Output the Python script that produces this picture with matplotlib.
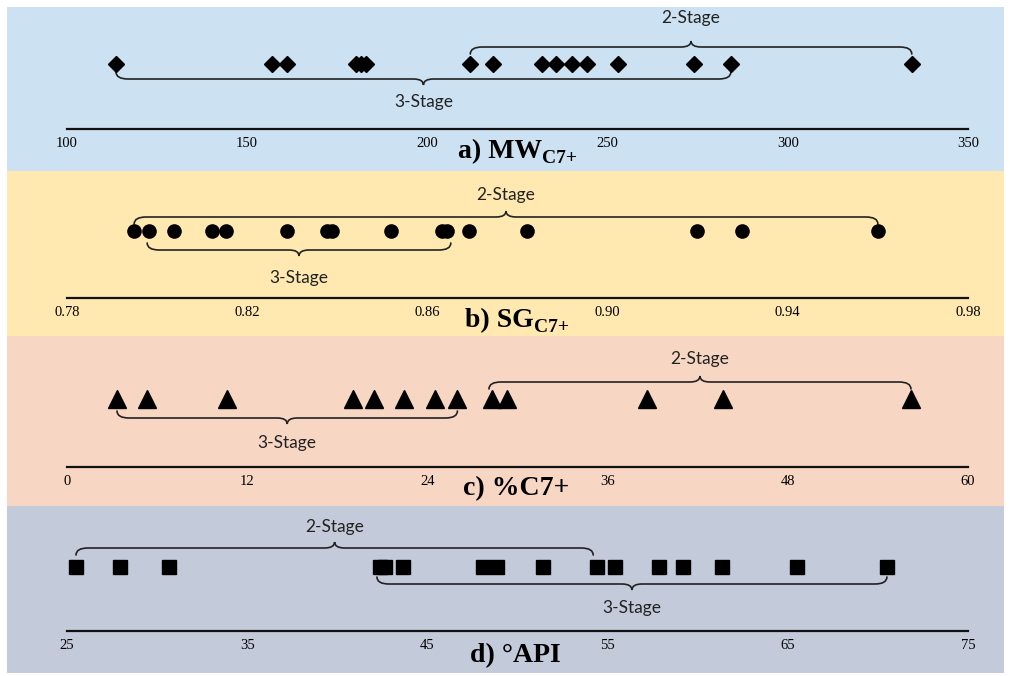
import matplotlib
matplotlib.use('Agg')
import matplotlib.pyplot as plt
from matplotlib.path import Path
from matplotlib.patches import PathPatch
from matplotlib.text import Annotation

# values
mw_values = [113.6, 156.9, 161.1, 180.3, 181.7, 183.1, 211.9, 218.1, 231.9,
             235.6, 240.0, 244.4, 252.8, 273.9, 284.2, 334.4]
mw_ticks = [100, 150, 200, 250, 300, 350]
mw_3stage = (113.6, 284.2)
mw_2stage = (211.9, 334.4)

sg_values = [0.7949, 0.7982, 0.8038, 0.8122, 0.8153, 0.8289, 0.8378, 0.8389,
             0.8520, 0.8633, 0.8644, 0.8693, 0.8820, 0.9198, 0.9298, 0.9600]
sg_ticks = [0.78, 0.82, 0.86, 0.90, 0.94, 0.98]
sg_3stage = (0.7978, 0.8652)
sg_2stage = (0.7949, 0.9600)

c7_values = [3.33, 5.33, 10.67, 19.07, 20.47, 22.47, 24.53, 26.0, 28.3,
             29.3, 38.6, 43.67, 56.2]
c7_ticks = [0, 12, 24, 36, 48, 60]
c7_3stage = (3.33, 26.0)
c7_2stage = (28.1, 56.2)

api_values = [25.5, 27.94, 30.67, 42.39, 42.67, 43.67, 48.06, 48.89, 51.39,
              54.39, 55.39, 57.83, 59.17, 61.33, 65.5, 70.5]
api_ticks = [25, 35, 45, 55, 65, 75]
api_3stage = (42.2, 70.5)
api_2stage = (25.5, 54.2)

W, H = 1010, 676
fig = plt.figure(figsize=(W / 100, H / 100), dpi=100)

label_font = dict(family='Lato', fontsize=12.5, color='#222222')
serif = 'Liberation Serif'


def brace(ax, x0, x1, y, d, upp, color='#222222'):
    # curly brace, d=+1 cusp points down, d=-1 cusp points up
    rx, rc = 12 * upp, 10 * upp
    hend, hc = 7, 6
    xm = (x0 + x1) / 2
    verts = [(x0, y - d * hend), (x0, y), (x0 + rx, y),
             (xm - rc, y), (xm, y), (xm, y + d * hc),
             (xm, y), (xm + rc, y),
             (x1 - rx, y), (x1, y), (x1, y - d * hend)]
    codes = [Path.MOVETO, Path.CURVE3, Path.CURVE3,
             Path.LINETO, Path.CURVE3, Path.CURVE3,
             Path.CURVE3, Path.CURVE3,
             Path.LINETO, Path.CURVE3, Path.CURVE3]
    ax.add_patch(PathPatch(Path(verts, codes), fc='none', ec=color, lw=1.2,
                           capstyle='round'))
    return xm


def panel(top, bot, bg, values, ticks, ticklabels, marker, ms,
          ymark, yaxis, st3, y3, st2, y2):
    left_px, right_px = 7, 1004
    ax = fig.add_axes([left_px / W, 1 - bot / H, (right_px - left_px) / W, (bot - top) / H])
    ax.set_facecolor(bg)
    lo, hi = ticks[0], ticks[-1]
    upp = (hi - lo) / 901.0
    ax.set_xlim(lo - (67 - left_px) * upp, hi + (right_px - 968) * upp)
    ax.set_ylim(bot - top, 0)
    for s in ['top', 'left', 'right']:
        ax.spines[s].set_visible(False)
    ax.spines['bottom'].set_position(('data', yaxis - top))
    ax.spines['bottom'].set_bounds(lo, hi)
    ax.spines['bottom'].set_linewidth(1.6)
    ax.spines['bottom'].set_color('#111111')
    ax.set_yticks([])
    ax.set_xticks(ticks)
    ax.set_xticklabels(ticklabels, fontfamily=serif, fontsize=10.5)
    ax.tick_params(axis='x', length=0, pad=6)

    ax.plot(values, [ymark - top] * len(values), ls='none', marker=marker,
            ms=ms, color='black', mec='black', zorder=3)

    for name, rng, info in [('3-Stage', st3, y3), ('2-Stage', st2, y2)]:
        yline, d, ylab = info
        xm = brace(ax, rng[0], rng[1], yline - top, d, upp)
        ax.text(xm, ylab - top, name, ha='center', va='center', **label_font)
    return ax


def title(text, sub, tx, ty):
    t = fig.text(tx / W, 1 - ty / H, text, fontfamily=serif, fontweight='bold',
                 fontsize=20, ha='left', va='baseline', zorder=5)
    if sub:
        a = Annotation(sub, xy=(1, 0), xycoords=t, xytext=(0, 1),
                       textcoords='offset points', fontfamily=serif,
                       fontweight='bold', fontsize=14, ha='left', va='baseline',
                       annotation_clip=False, zorder=5)
        fig.add_artist(a)


panel(7, 171, '#CCE1F2', mw_values, mw_ticks, [str(v) for v in mw_ticks], 'D', 8,
      64, 129, mw_3stage, (79, 1, 102), mw_2stage, (47, -1, 18))
panel(171, 336, '#FFE9B1', sg_values, sg_ticks, ['%.2f' % v for v in sg_ticks], 'o', 9.5,
      231, 298, sg_3stage, (250, 1, 278), sg_2stage, (217, -1, 195))
panel(336, 506, '#F8D6C4', c7_values, c7_ticks, [str(v) for v in c7_ticks], '^', 12.5,
      399, 467, c7_3stage, (418, 1, 443), c7_2stage, (382, -1, 359))
panel(506, 673, '#C3CAD9', api_values, api_ticks, [str(v) for v in api_ticks], 's', 10.5,
      567, 631, api_3stage, (584, 1, 608), api_2stage, (548, -1, 527))

title('a) MW', 'C7+', 458, 158)
title('b) SG', 'C7+', 465, 327)
title('c) %C7+', None, 463, 495)
title('d) \u00b0API', None, 470, 662)

fig.savefig('out.png', dpi=100)
